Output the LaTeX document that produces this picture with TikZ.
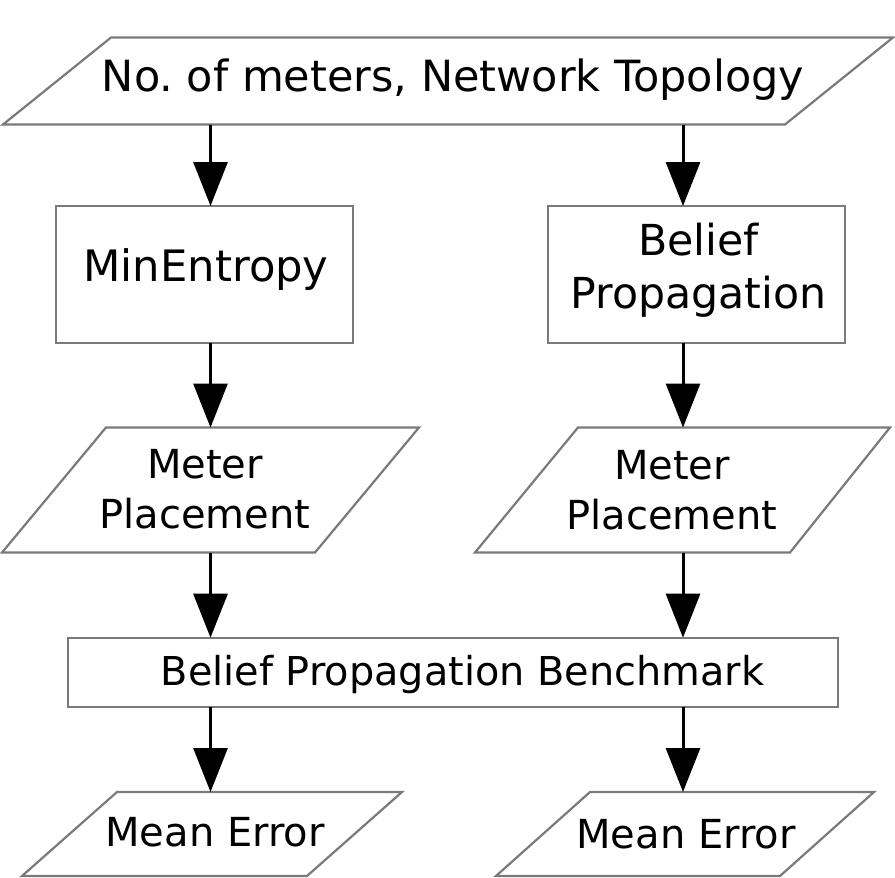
\documentclass[tikz,border=0pt]{standalone}
\usepackage{fontspec}
\setmainfont{DejaVu Sans}
\usetikzlibrary{arrows.meta}
\definecolor{edgegrey}{HTML}{7A7A7A}
\frenchspacing
\begin{document}
\begin{tikzpicture}[x=1pt,y=-1pt,
  shapeline/.style={draw=edgegrey,line width=2.2pt,line join=miter},
  boxnode/.style={shapeline,inner sep=0pt,outer sep=0pt,anchor=north west},
  arr/.style={draw=black,line width=3pt,-{Triangle[length=44pt,width=34pt]}},
  lbl/.style={inner sep=0pt,outer sep=0pt,text=black},
]
\useasboundingbox (0,0) rectangle (895,878);

% input parallelogram
\draw[shapeline] (111,37.5) -- (893,37.5) -- (785,124.5) -- (3,124.5) -- cycle;
\node[lbl,anchor=base,font=\fontsize{43}{50}\selectfont] (intext) at (453,91.7) {No. of meters, Network Topology};
\coordinate (inL) at (210.5,124.5);
\coordinate (inR) at (683,124.5);

% algorithm boxes
\node[boxnode,minimum width=297pt,minimum height=137.3pt] (minent) at (55.7,206) {};
\node[lbl,anchor=base,font=\fontsize{43.3}{50}\selectfont] (minenttext) at (206,281.7) {MinEntropy};
\node[boxnode,minimum width=296.7pt,minimum height=137.3pt] (bp) at (548.3,206) {};
\node[lbl,anchor=center,align=center,font=\fontsize{42.7}{53.3}\selectfont] (bptext) at (698.5,270) {Belief\\Propagation};

% meter placement parallelograms
\draw[shapeline] (106,427.5) -- (419,427.5) -- (315,552.5) -- (2,552.5) -- cycle;
\node[lbl,anchor=center,align=center,font=\fontsize{40}{50}\selectfont] (mpLtext) at (205,489.2) {Meter\\Placement};
\coordinate (mpLtop) at (210.5,427.5);
\coordinate (mpLbot) at (210.5,552.5);
\draw[shapeline] (578,427.5) -- (890,427.5) -- (790,552.5) -- (475,552.5) -- cycle;
\node[lbl,anchor=center,align=center,font=\fontsize{40}{50}\selectfont] (mpRtext) at (672,490.5) {Meter\\Placement};
\coordinate (mpRtop) at (683,427.5);
\coordinate (mpRbot) at (683,552.5);

% benchmark box
\node[boxnode,minimum width=769.7pt,minimum height=69pt] (bench) at (68.3,637.7) {};
\node[lbl,anchor=base,font=\fontsize{39.8}{50}\selectfont] (benchtext) at (462.5,685) {Belief Propagation Benchmark};

% mean error parallelograms
\draw[shapeline] (117,792) -- (402,792) -- (307,876) -- (22,876) -- cycle;
\node[lbl,anchor=base,font=\fontsize{40}{50}\selectfont] (meLtext) at (215,846.7) {Mean Error};
\coordinate (meLtop) at (210.5,792);
\draw[shapeline] (590,792) -- (874,792) -- (780,876) -- (496,876) -- cycle;
\node[lbl,anchor=base,font=\fontsize{40}{50}\selectfont] (meRtext) at (686,848.3) {Mean Error};
\coordinate (meRtop) at (683,792);

% connectors
\draw[arr] (inL) -- (minent.north -| inL);
\draw[arr] (inR) -- (bp.north -| inR);
\draw[arr] (minent.south -| inL) -- (mpLtop);
\draw[arr] (bp.south -| inR) -- (mpRtop);
\draw[arr] (mpLbot) -- (bench.north -| mpLbot);
\draw[arr] (mpRbot) -- (bench.north -| mpRbot);
\draw[arr] (bench.south -| meLtop) -- (meLtop);
\draw[arr] (bench.south -| meRtop) -- (meRtop);
\end{tikzpicture}
\end{document}
